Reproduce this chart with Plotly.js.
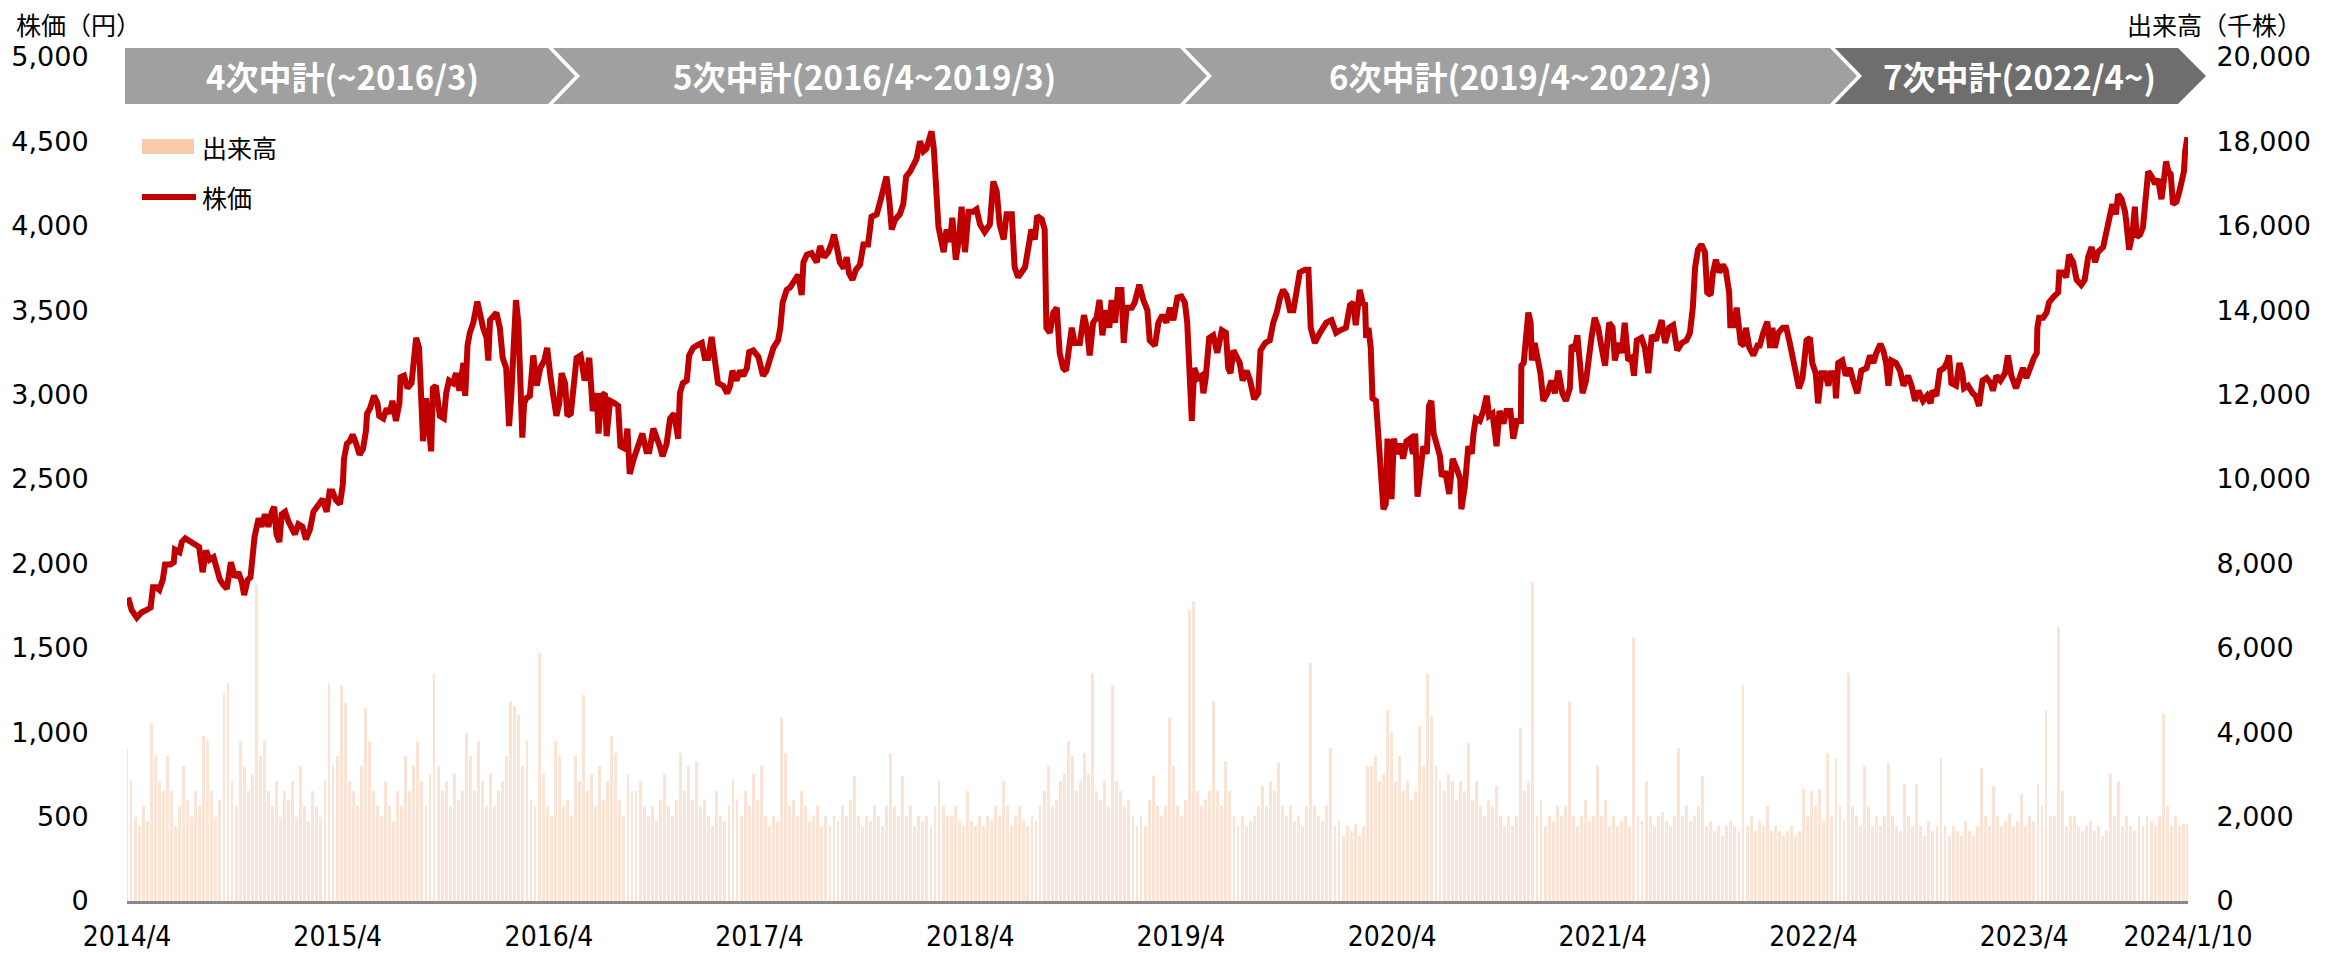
<!DOCTYPE html>
<html><head><meta charset="utf-8">
<script src="https://cdn.plot.ly/plotly-3.0.1.min.js"></script>
<style>html,body{margin:0;padding:0;background:#fff;}#chart{width:2328px;height:953px;}</style>
</head><body><div id="chart"></div>
<script>
// ---- data (day offsets from 2014-04-01) ----
const startDate = '2014-04-01';
const endDate = '2024-01-10';
const priceDays = [2,8,17,25,34,41,45,51,56,62,66,75,81,83,91,95,101,109,118,125,131,137,143,150,155,161,167,173,180,187,193,199,203,209,214,218,221,228,233,239,245,251,255,259,264,268,274,280,285,291,297,304,310,317,323,331,339,346,351,356,362,369,374,376,381,386,391,397,403,409,414,416,421,428,434,437,444,450,455,460,466,472,474,480,486,493,497,501,506,509,513,518,522,527,530,535,542,549,553,558,565,570,576,580,583,586,590,594,600,607,612,617,623,626,629,635,640,646,651,657,661,662,666,670,674,678,681,685,688,692,
698,704,710,716,723,728,734,740,744,749,753,759,763,769,773,779,786,793,801,807,814,817,822,828,831,837,845,851,855,863,867,871,878,886,893,900,905,912,919,923,928,935,941,948,955,958,963,970,974,981,987,996,1001,1007,1013,1019,1024,1033,1040,1045,1049,1056,1062,1068,1074,1078,1085,1094,1102,1108,1114,1120,1128,1132,1136,1143,1149,1157,1163,1169,1172,1178,1186,1195,1201,1208,1215,1221,1225,1229,1235,1242,1247,1251,1257,1263,1270,1276,1284,1290,1299,1305,1310,1316,1321,1325,1331,1339,1345,1350,1357,1362,1368,1374,1380,1385,1394,1398,1400,1406,
1415,1420,1426,1430,1436,1442,1446,1452,1458,1466,1472,1478,1486,1495,1501,1507,1512,1519,1524,1533,1538,1544,1556,1562,1567,1573,1577,1585,1590,1593,1599,1605,1611,1616,1622,1627,1631,1637,1642,1651,1658,1663,1668,1674,1680,1685,1690,1696,1702,1706,1712,1717,1723,1727,1732,1741,1746,1754,1761,1768,1772,1781,1787,1794,1801,1807,1813,1820,1827,1833,1837,1840,1845,1849,1856,1862,1865,1869,1875,1882,1889,1897,1904,1908,1912,1917,1924,1928,1933,1940,1946,1953,1960,1964,1972,1980,1986,1992,1998,2003,2009,2015,2021,2026,2032,2041,2047,2051,2058,2067,2078,2087,2095,2102,2112,
2119,2125,2129,2136,2142,2145,2147,2151,2155,2158,2164,2168,2172,2177,2181,2184,2188,2191,2195,2200,2206,2211,2217,2223,2228,2232,2236,2240,2246,2252,2256,2260,2264,2269,2275,2278,2284,2291,2297,2304,2310,2312,2318,2324,2330,2333,2337,2344,2350,2356,2360,2366,2373,2378,2385,2390,2397,2402,2408,2415,2416,2420,2424,2428,2432,2434,2439,2445,2449,2454,2461,2468,2474,2480,2487,2493,2500,2503,2509,2513,2517,2522,2528,2534,2538,2543,2549,2555,2561,2568,2574,2578,2584,2590,2595,2601,2607,2611,2616,2624,2630,2636,2642,2649,2659,2665,2672,2679,2686,2694,2702,2708,2713,2717,2722,2728,2734,2738,2744,2748,2753,2759,2765,2770,2773,2776,2778,2784,2789,2793,2796,2802,2805,2811,2818,2825,
2829,2835,2842,2847,2851,2855,2861,2869,2875,2881,2887,2893,2897,2903,2910,2916,2920,2926,2930,2936,2942,2948,2952,2959,2961,2965,2972,2978,2985,2991,2998,3005,3014,3020,3026,3031,3038,3043,3048,3052,3057,3065,3072,3078,3086,3092,3098,3104,3112,3119,3125,3128,3135,3141,3148,3153,3157,3161,3169,3175,3180,3183,3190,3198,3203,3209,3215,3222,3229,3233,3239,3246,3254,3259,3265,3273,3278,3285,3291,3297,3304,3309,3310,3313,3320,3326,3330,3337,3346,3348,3355,3360,3365,3372,3378,3386,3392,3398,3404,3410,3415,3424,3429,3434,3440,3446,3450,3456,3462,3464,3469,3475,3479,3482,3488,3493,3498,3502,3508,3514,3519,3525,3529,3533,3537,3541,3545,3551,3556,3560,3564,3566,3570];
const priceValues = [1798,1724,1679,1709,1724,1739,1858,1858,1843,1903,1993,1993,2007,2082,2067,2127,2148,2127,2112,2097,1948,2076,2022,2037,1963,1903,1873,1849,2007,1918,1948,1888,1813,1903,1918,2082,2157,2267,2217,2291,2217,2306,2336,2172,2127,2291,2306,2246,2202,2172,2232,2217,2142,2202,2306,2351,2381,2306,2426,2426,2375,2351,2470,2620,2709,2724,2763,2709,2644,2679,2784,2888,2918,2993,2948,2874,2859,2918,2888,2963,2844,2948,3103,3112,3038,3068,3247,3336,3277,3008,2724,2978,2814,2664,3038,3053,2874,2859,3008,3083,3068,3127,3023,3172,3187,2993,3291,3366,3426,3551,3456,3396,3336,3202,3441,3471,3486,3396,3217,3157,2918,2814,3008,3336,3560,3426,3187,2745,2948,2978,
2993,3232,3053,3157,3202,3277,3098,2978,2874,2948,3127,3068,2874,2888,3023,3217,3232,3083,3217,2903,3008,2769,2993,3008,2754,2963,2948,2933,2694,2679,2799,2530,2620,2709,2769,2664,2664,2799,2739,2694,2635,2709,2858,2888,2739,3008,3068,3083,3232,3277,3291,3306,3217,3217,3342,3202,3068,3053,3008,3053,3142,3083,3142,3112,3157,3252,3262,3223,3112,3142,3202,3277,3321,3396,3545,3620,3635,3680,3710,3590,3784,3829,3838,3784,3880,3814,3844,3898,3948,3889,3784,3748,3814,3719,3680,3740,3769,3889,3889,4053,4068,4143,4202,4292,4143,3978,4038,4068,4128,4292,4322,4352,4396,4501,4441,4456,4560,4456,4292,3993,
3844,3978,3904,4047,3799,3934,4113,3844,4083,4083,4098,4008,3963,4008,4262,4202,4008,3919,4068,4068,3754,3695,3754,3859,3978,3919,4059,4038,3978,3396,3366,3486,3515,3247,3157,3142,3247,3396,3306,3306,3471,3396,3232,3426,3456,3560,3351,3500,3396,3560,3426,3620,3620,3306,3515,3515,3545,3650,3560,3500,3321,3291,3426,3471,3426,3515,3441,3575,3581,3545,3426,3157,2844,3157,3098,3112,3008,3098,3336,3351,3247,3381,3366,3157,3127,3262,3202,3187,3083,3142,3083,2973,3008,3262,3306,3321,3426,3486,3575,3620,3590,3500,3500,3620,3724,3740,3740,3396,3306,3366,3426,3441,3366,3381,3396,
3530,3545,3411,3620,3530,3545,3336,3396,3277,2978,2963,2769,2590,2321,2351,2739,2590,2381,2739,2649,2709,2620,2724,2739,2649,2769,2396,2530,2694,2649,2933,2963,2769,2709,2635,2515,2545,2411,2620,2560,2500,2321,2456,2694,2649,2769,2858,2844,2903,2993,2874,2888,2694,2903,2829,2903,2903,2739,2844,2844,3172,3187,3321,3486,3426,3202,3306,3217,3127,2963,3008,3083,3008,3142,3008,2963,3038,3291,3277,3351,3217,3008,3083,3277,3351,3456,3396,3277,3172,3426,3396,3202,3306,3247,3426,3202,3217,3112,3321,3336,3277,3127,3351,3321,3441,3306,3396,3411,3262,3306,3321,3366,3515,3754,3859,3889,3844,3605,3590,3724,3799,3724,3769,3740,3635,3605,3411,3411,3515,3396,3306,3291,3396,3277,3232,3291,
3291,3366,3432,3277,3396,3277,3366,3396,3396,3306,3217,3098,3038,3098,3321,3336,3187,3127,2948,3127,3127,3053,3127,3127,2978,3187,3202,3112,3157,3083,3008,3142,3157,3232,3187,3247,3300,3262,3187,3053,3202,3187,3142,3053,3112,3053,2963,3023,2963,2993,2948,3023,2993,3142,3157,3187,3232,3068,3053,3187,3127,3038,3053,3008,2993,2933,3083,3098,3068,3023,3112,3083,3127,3232,3112,3038,3098,3157,3098,3157,3217,3247,3396,3456,3456,3486,3545,3575,3605,3724,3724,3695,3829,3784,3680,3650,3680,3814,3874,3784,3844,3874,3963,4053,4128,4068,4187,4158,4083,4023,3859,3963,4113,3934,3948,3993,4143,4322,4292,4247,4277,4158,4262,4381,4322,4307,4128,4143,4202,4277,4322,4441,4525];

// weekly volume readings (thousand shares), one per week from 2014-04-01
const volumeWeekly = [
3620,2843,2000,1770,2246,1900,4215,3440,2843,2600,3440,2600,1770,2246,3200,2400,2000,2600,2246,3900,
3800,2600,2000,2400,4900,5170,2843,2246,3800,3200,2600,3000,7500,3440,3800,2600,2246,2843,2000,2604,
2400,2843,2000,3200,2246,1900,2604,2246,2000,2843,5170,3200,3440,5100,4700,2843,2604,2246,3200,4573,
3798,2604,2246,2007,2843,2246,1900,2604,2246,3440,2604,3200,3798,2843,2246,3000,5375,3200,2604,2843,
2246,3000,2400,2604,3977,3440,2604,3798,2843,2246,3000,2246,2604,2843,3440,4750,4630,4400,3200,3798,
2400,2246,5887,3000,2246,2007,3798,3440,2246,2400,2007,3440,2843,4873,2604,3000,2246,3201,2400,2843,
3920,3500,2400,2007,3000,2604,2604,2843,2246,2007,2246,1900,2400,3000,2246,2007,2400,3500,2604,3200,
2400,3300,2246,2400,2007,1768,2604,2007,1900,2246,2900,2400,2007,2604,2246,3000,2400,3200,2007,1768,
2007,1900,4340,3500,2246,2400,2007,2604,2246,1900,2007,2246,1768,2007,1768,2007,1900,2246,2007,2400,
2960,2007,1768,2007,1900,2246,2007,1768,2246,3500,2246,2007,2960,2007,2246,1768,2007,1900,2007,1768,
2246,2843,2246,2007,
2007,2246,1900,1768,2604,1900,1768,2007,1768,2007,1900,2246,2007,2843,2246,1768,2007,2246,1900,1768,
2007,1900,2246,2604,3201,2246,2400,2843,3000,3798,3440,2604,2843,3500,3000,5410,2604,2400,2843,2246,
5110,2843,2604,2246,2400,2007,1768,2007,1768,2400,2960,2246,2007,2246,4340,3201,2246,2007,2400,6900,
7100,2604,2246,2400,2604,4750,2604,2246,3320,2604,2007,1768,2007,1768,1900,2007,2246,2720,2246,2843,
2604,3260,2246,2007,2246,1900,2007,1768,2246,5650,2246,2007,1900,2246,3620,1768,1900,1530,1768,1650,
1830,1530,
1768,3201,3201,3440,2843,3000,4515,4000,2843,3440,2604,2843,2400,2604,4157,3201,5375,4395,3201,2843,
2604,3000,2843,2400,2843,2604,3738,2400,2843,2246,2007,2400,2246,2720,2007,1768,2007,1768,2007,4097,
2604,2843,7560,2007,2400,1768,2007,1900,2246,2007,2246,4750,2007,1768,2007,2400,1900,2007,3200,2007,
2400,1768,2007,1768,1900,2007,1768,6246,2007,1900,2843,2007,1768,2007,2120,1900,1768,2007,3620,2007,
2246,1900,2007,2246,2960,1768,1900,1650,1768,1530,1768,1900,1768,1650,5110,1768,2007,1650,1900,1768,
2246,1650,
1768,1650,1530,1650,1768,1530,1650,2650,2007,2604,2246,2650,1900,3500,2007,3380,2246,1900,5410,2246,
2007,1768,3200,2246,1768,2007,1768,2007,3260,2007,1768,1650,2780,2007,1768,2780,1768,1530,1900,1650,
1768,3380,1768,1530,1768,1650,1530,1900,1650,1530,1768,3140,2007,1768,2720,2007,1768,1900,2050,1768,
1900,2540,1768,2007,1900,2780,2246,4515,2007,2007,6484,2600,1768,2007,2007,1768,1650,1768,1890,1650,
1768,1530,1650,3020,2007,2840,1768,2007,1768,1650,2007,1768,2007,1900,1768,2007,4455,2246,1768,2007,
1768,1830,1830];

const xTickDates = ['2014-04-01','2015-04-01','2016-04-01','2017-04-01','2018-04-01','2019-04-01','2020-04-01','2021-04-01','2022-04-01','2023-04-01','2024-01-10'];
const xTickLabels = ['2014/4','2015/4','2016/4','2017/4','2018/4','2019/4','2020/4','2021/4','2022/4','2023/4','2024/1/10'];
const priceTicks = [0,500,1000,1500,2000,2500,3000,3500,4000,4500,5000];
const volumeTicks = [0,2000,4000,6000,8000,10000,12000,14000,16000,18000,20000];
const planLabels = ['4次中計(~2016/3)','5次中計(2016/4~2019/3)','6次中計(2019/4~2022/3)','7次中計(2022/4~)'];
const seriesNames = ['出来高','株価'];

// ---- helpers ----
const DAY = 86400000;
const base = Date.UTC(2014,3,1);
const toDate = d => new Date(base + d*DAY).toISOString().slice(0,10);
const priceX = priceDays.map(toDate);
const volX = volumeWeekly.map((v,i) => toDate(i*7));

const W=2328, H=953, L=127, R=2188, T=57, B=901;
const px = x => (x-L)/(R-L);
const py = y => (B-y)/(B-T);
const poly = pts => 'M' + pts.map(p => px(p[0]).toFixed(5)+','+py(p[1]).toFixed(5)).join('L') + 'Z';

const JP = '"Noto Sans CJK JP", "Noto Sans", sans-serif';
const NUM = '"DejaVu Sans", Verdana, sans-serif';
const NARROW = '"DejaVu Sans Condensed", "Liberation Sans Narrow", "Arial Narrow", sans-serif';

const traces = [
  {type:'bar', name:seriesNames[0], x:volX, y:volumeWeekly, yaxis:'y',
   width:5*DAY, marker:{color:'#F8CBAD', line:{width:0}}, opacity:0.5, showlegend:false},
  {type:'scatter', mode:'lines', name:seriesNames[1], x:priceX, y:priceValues, yaxis:'y2',
   line:{color:'#C00000', width:6, shape:'linear'}, showlegend:false}
];

const grayA = '#A0A0A0', grayB = '#6E6E6E';
const chev = [
  [[125,48],[548,48],[575,76],[548,104],[125,104]],
  [[553,48],[1180,48],[1207,76],[1180,104],[553,104],[580,76]],
  [[1185,48],[1830,48],[1857,76],[1830,104],[1185,104],[1212,76]],
  [[1835,48],[2178,48],[2206,76],[2178,104],[1835,104],[1862,76]]
];
const chevFill = [grayA, grayA, grayA, grayB];
const chevText = [342, 864, 1520, 2019];

const shapes = chev.map((c,i)=>({type:'path', xref:'paper', yref:'paper', path:poly(c), fillcolor:chevFill[i], line:{width:0}, layer:'above'}));
// legend swatches
shapes.push({type:'rect', xref:'paper', yref:'paper', x0:px(142), x1:px(194), y0:py(154), y1:py(139), fillcolor:'#F8CBAD', line:{width:0}});
shapes.push({type:'line', xref:'paper', yref:'paper', x0:px(142), x1:px(196), y0:py(197), y1:py(197), line:{color:'#C00000', width:6}});

const annotations = planLabels.map((t,i)=>({xref:'paper', yref:'paper', x:px(chevText[i]), y:py(76), text:'<b>'+t+'</b>', showarrow:false,
  xanchor:'center', yanchor:'middle', font:{family:JP, size:33, color:'#FFFFFF'}}));
annotations.push({xref:'paper', yref:'paper', x:px(200), y:py(147), text:seriesNames[0], showarrow:false, xanchor:'left', yanchor:'middle', font:{family:JP, size:25, color:'#000'}});
annotations.push({xref:'paper', yref:'paper', x:px(200), y:py(197), text:seriesNames[1], showarrow:false, xanchor:'left', yanchor:'middle', font:{family:JP, size:25, color:'#000'}});
annotations.push({xref:'paper', yref:'paper', x:px(14), y:py(24), text:'株価（円）', showarrow:false, xanchor:'left', yanchor:'middle', font:{family:JP, size:25, color:'#000'}});
annotations.push({xref:'paper', yref:'paper', x:px(2304), y:py(24), text:'出来高（千株）', showarrow:false, xanchor:'right', yanchor:'middle', font:{family:JP, size:25, color:'#000'}});

const layout = {
  width:W, height:H,
  margin:{l:L, r:W-R, t:T, b:H-B, pad:0},
  paper_bgcolor:'#FFFFFF', plot_bgcolor:'#FFFFFF',
  showlegend:false, bargap:0,
  xaxis:{type:'date', range:[startDate,endDate], tickmode:'array', tickvals:xTickDates, ticktext:xTickLabels,
    showgrid:false, zeroline:false, showline:true, linecolor:'#898989', linewidth:2.5,
    ticks:'outside', ticklen:9, tickcolor:'rgba(0,0,0,0)', tickfont:{family:NARROW, size:28, color:'#000'}},
  yaxis:{range:[0,20000], side:'right', tickmode:'array', tickvals:volumeTicks, tickformat:',d',
    showgrid:false, zeroline:false, showline:false,
    ticks:'outside', ticklen:22, tickcolor:'rgba(0,0,0,0)', tickfont:{family:NUM, size:27, color:'#000'}},
  yaxis2:{range:[0,5000], side:'left', overlaying:'y', tickmode:'array', tickvals:priceTicks, tickformat:',d',
    showgrid:false, zeroline:false, showline:false,
    ticks:'outside', ticklen:32, tickcolor:'rgba(0,0,0,0)', tickfont:{family:NUM, size:27, color:'#000'}},
  shapes:shapes, annotations:annotations
};

Plotly.newPlot('chart', traces, layout, {displayModeBar:false, staticPlot:true});
</script></body></html>
